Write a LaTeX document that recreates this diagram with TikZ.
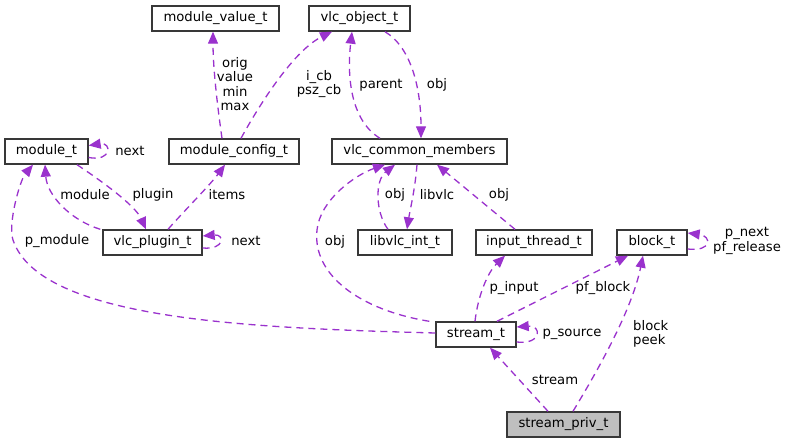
\documentclass[tikz,border=0pt]{standalone}
\usepackage{fontspec}
\setmainfont{DejaVu Sans}
\usetikzlibrary{arrows.meta}
\definecolor{edgec}{HTML}{9A32CD}
\begin{document}
\begin{tikzpicture}[x=1pt,y=-1pt,
  cls/.style={draw=black!78, line width=1.4pt, rectangle, inner sep=0pt,
    minimum height=25pt, font=\fontsize{13.2}{14.5}\selectfont, anchor=center},
  rel/.style={draw=edgec, dash pattern=on 7pt off 5pt, line width=1.3pt,
    -{Triangle[length=12pt,width=10pt,fill=edgec]}},
  lbl/.style={font=\fontsize{13.2}{14.5}\selectfont, inner sep=0pt, align=center}]
\useasboundingbox (0,0) rectangle (785,444);

% classes
\node[cls, minimum width=127pt] (mvt) at (215.5,18.5) {module\_value\_t};
\node[cls, minimum width=101pt] (vot) at (359.5,18.5) {vlc\_object\_t};
\node[cls, minimum width=83pt]  (mod) at (46.5,151.5) {module\_t};
\node[cls, minimum width=130pt] (mcfg) at (234,151.5) {module\_config\_t};
\node[cls, minimum width=175pt] (cm) at (419.5,151.5) {vlc\_common\_members};
\node[cls, minimum width=99pt]  (plug) at (152.5,242.5) {vlc\_plugin\_t};
\node[cls, minimum width=94pt]  (lib) at (405,242.5) {libvlc\_int\_t};
\node[cls, minimum width=116pt] (inp) at (534,242.5) {input\_thread\_t};
\node[cls, minimum width=70pt]  (blk) at (652,242.5) {block\_t};
\node[cls, minimum width=80pt]  (st) at (476,334.5) {stream\_t};
\node[cls, minimum width=113pt, fill=black!25] (sp) at (563.5,424.5) {stream\_priv\_t};

% edges
\draw[rel] ([xshift=-12pt]mcfg.north) .. controls (218,110) and (213,70) .. ([xshift=-2.5pt]mvt.south);
\draw[rel] ([xshift=7pt]mcfg.north) .. controls (262,100) and (295,50) .. ([xshift=-27.5pt]vot.south);
\draw[rel] ([xshift=-39.5pt]cm.north) .. controls (350,120) and (347,75) .. ([xshift=-7.5pt]vot.south);
\draw[rel] ([xshift=25.5pt]vot.south) .. controls (412,48) and (421,90) .. ([xshift=1.5pt]cm.north);
\draw[rel] ([yshift=-6pt]mod.east) .. controls (112,162) and (112,142) .. ([yshift=6pt]mod.east);
\draw[rel] ([xshift=30.5pt]mod.south) .. controls (100,180) and (135,205) .. ([xshift=-6.5pt]plug.north);
\draw[rel] ([xshift=-2pt]plug.north west) .. controls (70,220) and (47,195) .. ([xshift=-1.5pt]mod.south);
\draw[rel] ([xshift=15.5pt]plug.north) .. controls (185,210) and (210,185) .. ([xshift=-9pt]mcfg.south);
\draw[rel] ([yshift=-5.5pt]plug.east) .. controls (225,250) and (225,234) .. ([yshift=6.5pt]plug.east);
\draw[rel] ([yshift=1.5pt]st.west) .. controls (250,328) and (40,320) .. (13,240)
   .. controls (7.6,224) and (20,180) .. ([xshift=-13.5pt]mod.south);
\draw[rel] ([xshift=-6pt]st.north west) .. controls (360,310) and (312,275) .. (317,230)
   .. controls (320,200) and (355,175) .. ([xshift=-34.5pt]cm.south);
\draw[rel] ([xshift=-17pt]lib.north) .. controls (375,212) and (375,180) .. ([xshift=-24.5pt]cm.south);
\draw[rel] ([xshift=-2.5pt]cm.south) .. controls (415,190) and (410,210) .. ([xshift=2pt]lib.north);
\draw[rel] ([xshift=-19pt]inp.north) -- ([xshift=17.5pt]cm.south);
\draw[rel] ([yshift=-6.5pt]blk.east) .. controls (712,252) and (712,236) .. ([yshift=9.5pt]blk.east);
\draw[rel] ([xshift=-1pt]st.north) .. controls (478,295) and (488,272) .. ([xshift=-29pt]inp.south);
\draw[rel] ([xshift=21pt]st.north) -- ([xshift=-24pt]blk.south);
\draw[rel] ([yshift=-7.5pt]st.east) .. controls (542,345) and (542,325) .. ([yshift=7.5pt]st.east);
\draw[rel] ([xshift=-15.5pt]sp.north) -- ([xshift=14pt]st.south);
\draw[rel] ([xshift=9.5pt]sp.north) .. controls (598,370) and (632,310) .. ([xshift=-9pt]blk.south);

% labels
\node[lbl] (l1) at (235,84) {orig\\value\\min\\max};
\node[lbl] (l2) at (319,84) {i\_cb\\psz\_cb};
\node[lbl] (l3) at (381,85) {parent};
\node[lbl] (l4) at (437,85) {obj};
\node[lbl] (l5) at (130,151) {next};
\node[lbl] (l6) at (85,195) {module};
\node[lbl] (l7) at (153,195) {plugin};
\node[lbl] (l8) at (227,195) {items};
\node[lbl] (l9) at (57,241) {p\_module};
\node[lbl] (l10) at (246,241) {next};
\node[lbl] (l11) at (335,242) {obj};
\node[lbl] (l12) at (395,195) {obj};
\node[lbl] (l13) at (437,195) {libvlc};
\node[lbl] (l14) at (499,195) {obj};
\node[lbl] (l15) at (747,241) {p\_next\\pf\_release};
\node[lbl] (l16) at (514,288) {p\_input};
\node[lbl] (l17) at (603,288) {pf\_block};
\node[lbl] (l18) at (572,334) {p\_source};
\node[lbl, align=left, anchor=west] (l19) at (633,334) {block\\peek};
\node[lbl] (l20) at (555,380) {stream};
\end{tikzpicture}
\end{document}
